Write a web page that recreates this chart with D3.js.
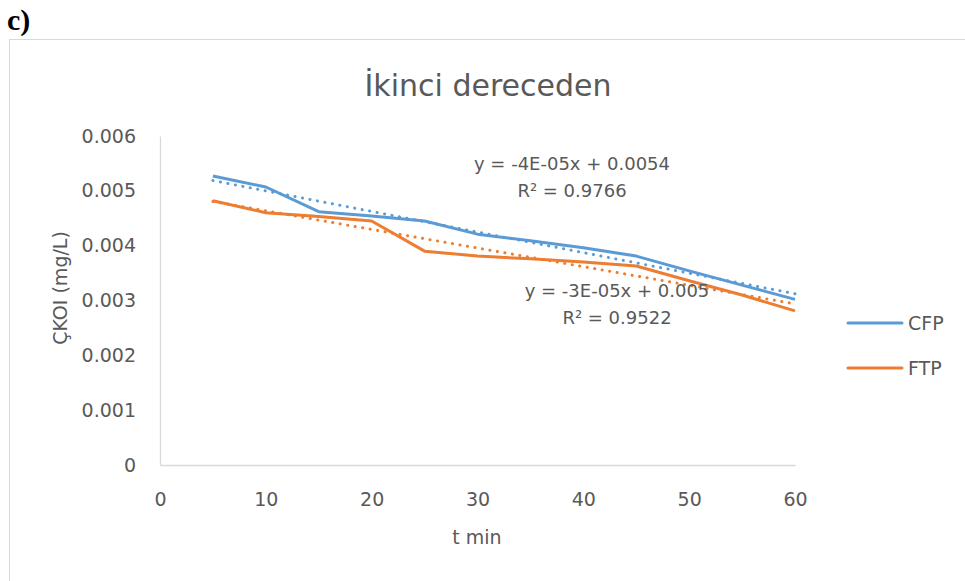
<!DOCTYPE html>
<html>
<head>
<meta charset="utf-8">
<script src="https://cdn.jsdelivr.net/npm/d3@7"></script>
<style>
  body { margin: 0; background: #fff; }
  text { font-family: "DejaVu Sans", sans-serif; fill: #595959; }
</style>
</head>
<body>
<div id="chart"></div>
<script>
// data
var times = [5, 10, 15, 20, 25, 30, 35, 40, 45, 50, 55, 60];
var cfp = [0.00527, 0.00507, 0.00462, 0.00454, 0.00445, 0.00421, 0.00409, 0.00396, 0.00381, 0.00354, 0.00328, 0.00302];
var ftp = [0.00482, 0.0046, 0.00453, 0.00445, 0.0039, 0.00381, 0.00376, 0.0037, 0.00363, 0.00336, 0.0031, 0.00281];
var seriesNames = ["CFP", "FTP"];
var xTicks = [0, 10, 20, 30, 40, 50, 60];
var yTicks = [0, 0.001, 0.002, 0.003, 0.004, 0.005, 0.006];
var trendLabels = [["y = -4E-05x + 0.0054", "R\u00b2 = 0.9766"], ["y = -3E-05x + 0.005", "R\u00b2 = 0.9522"]];

var colors = ["#5B9BD5", "#ED7D31"];

var svgWidth = 965;
var svgHeight = 581;

var chartMargin = { top: 136, left: 160 };
var chartWidth = 635;
var chartHeight = 329;

var svg = d3.select("#chart")
  .append("svg")
  .attr("width", svgWidth)
  .attr("height", svgHeight);

// "c)" label and the chart border
svg.append("text")
  .attr("x", 7)
  .attr("y", 30)
  .style("font-family", "'Liberation Serif', serif")
  .style("font-weight", "bold")
  .style("font-size", "30px")
  .style("fill", "#000")
  .text("c)");

svg.append("rect")
  .attr("x", 9.5)
  .attr("y", 39.5)
  .attr("width", 1000)
  .attr("height", 1000)
  .attr("fill", "none")
  .attr("stroke", "#D9D9D9");

svg.append("text")
  .attr("x", 488)
  .attr("y", 96)
  .attr("text-anchor", "middle")
  .style("font-size", "30px")
  .text("\u0130kinci dereceden");

var chartGroup = svg.append("g")
  .attr("transform", `translate(${chartMargin.left}, ${chartMargin.top})`);

var xScale = d3.scaleLinear().domain([0, 60]).range([0, chartWidth]);
var yScale = d3.scaleLinear().domain([0, 0.006]).range([chartHeight, 0]);

var bottomAxis = d3.axisBottom(xScale).tickValues(xTicks).tickSize(0).tickPadding(28).tickFormat(d3.format("d"));
var leftAxis = d3.axisLeft(yScale).tickValues(yTicks).tickSize(0).tickPadding(24).tickFormat(d => d === 0 ? "0" : d3.format(".3f")(d));

var xAxisG = chartGroup.append("g")
  .attr("transform", `translate(0, ${chartHeight})`)
  .call(bottomAxis);
var yAxisG = chartGroup.append("g")
  .call(leftAxis);

[xAxisG, yAxisG].forEach(function(g) {
  g.select(".domain").attr("stroke", "#D9D9D9").attr("stroke-width", 1.3);
  g.selectAll("text").style("font-size", "19px").style("font-family", "'DejaVu Sans', sans-serif").attr("fill", "#595959");
});

// axis titles
svg.append("text")
  .attr("x", 477)
  .attr("y", 544)
  .attr("text-anchor", "middle")
  .style("font-size", "19px")
  .text("t min");

svg.append("text")
  .attr("transform", "translate(67, 288) rotate(-90)")
  .attr("text-anchor", "middle")
  .style("font-size", "19px")
  .text("\u00c7KOI (mg/L)");

// series lines
var seriesData = [cfp, ftp];
var line = d3.line()
  .x((d, i) => xScale(times[i]))
  .y(d => yScale(d));

seriesData.forEach(function(values, s) {
  chartGroup.append("path")
    .datum(values)
    .attr("fill", "none")
    .attr("stroke", colors[s])
    .attr("stroke-width", 3)
    .attr("stroke-linejoin", "round")
    .attr("d", line);
});

// linear trendlines (least squares over the same points)
function linearFit(xs, ys) {
  var mx = d3.mean(xs), my = d3.mean(ys);
  var sxy = d3.sum(xs, (x, i) => (x - mx) * (ys[i] - my));
  var sxx = d3.sum(xs, x => (x - mx) * (x - mx));
  var b = sxy / sxx;
  return { slope: b, intercept: my - b * mx };
}

seriesData.forEach(function(values, s) {
  var fit = linearFit(times, values);
  var x0 = times[0], x1 = times[times.length - 1];
  chartGroup.append("line")
    .attr("x1", xScale(x0))
    .attr("y1", yScale(fit.intercept + fit.slope * x0))
    .attr("x2", xScale(x1))
    .attr("y2", yScale(fit.intercept + fit.slope * x1))
    .attr("stroke", colors[s])
    .attr("stroke-width", 3)
    .attr("stroke-linecap", "round")
    .attr("stroke-dasharray", "0.1 7.5");
});

// trendline equation labels
var labelPos = [[572, 170], [617, 297]];
trendLabels.forEach(function(lines, s) {
  lines.forEach(function(txt, k) {
    svg.append("text")
      .attr("x", labelPos[s][0])
      .attr("y", labelPos[s][1] + k * 27)
      .attr("text-anchor", "middle")
      .style("font-size", "18px")
      .text(txt);
  });
});

// legend
var legend = svg.append("g").attr("transform", "translate(848, 323)");
seriesNames.forEach(function(name, s) {
  var row = legend.append("g").attr("transform", `translate(0, ${s * 45})`);
  row.append("line")
    .attr("x1", 0).attr("x2", 54)
    .attr("stroke", colors[s])
    .attr("stroke-width", 3)
    .attr("stroke-linecap", "round");
  row.append("text")
    .attr("x", 60)
    .attr("y", 7)
    .style("font-size", "19px")
    .text(name);
});
</script>
</body>
</html>
